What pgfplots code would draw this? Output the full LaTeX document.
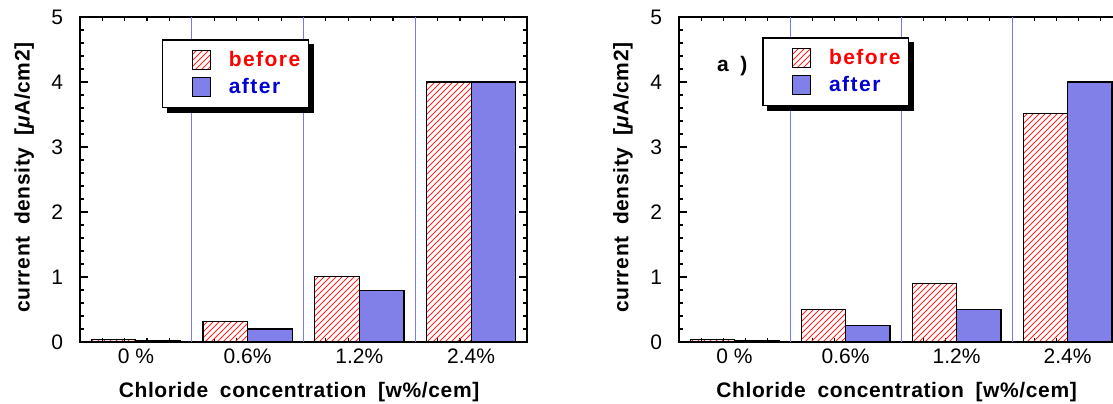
\documentclass[border=0pt]{standalone}
\usepackage{fontspec}
\setmainfont{Liberation Sans}
\newfontfamily\lblfont[LetterSpace=3,WordSpace=1.8]{Liberation Sans}
\newfontfamily\legfont[LetterSpace=7]{Liberation Sans}
\usepackage{pgfplots}
\pgfplotsset{compat=1.18}
\usetikzlibrary{patterns,calc}

\definecolor{afterblue}{RGB}{128,128,232}
\definecolor{txtblue}{RGB}{0,0,210}
\definecolor{sepblue}{RGB}{120,120,255}

\pgfplotsset{
  panel/.style={
    scale only axis, height=162.5pt,
    xmin=-0.5, xmax=3.5, ymin=0, ymax=5,
    xtick={0,1,2,3}, xticklabels={0 \%,0.6\%,1.2\%,2.4\%},
    ytick={0,1,2,3,4,5},
    minor xtick={-0.3,-0.1,0.1,0.3,0.7,0.9,1.1,1.3,1.7,1.9,2.1,2.3,2.7,2.9,3.1,3.3},
    minor y tick num=4,
    tick align=inside, major tick length=4pt, minor tick length=2.2pt,
    xtick pos=both, ytick pos=both,
    xticklabel pos=lower, yticklabel pos=left,
    major x tick style={draw=none},
    extra x ticks={0.5,1.5,2.5}, extra x tick labels={},
    extra x tick style={grid=major, major grid style={sepblue, line width=0.5pt}},
    axis line style={line width=0.8pt},
    tick style={black, line width=0.6pt},
    /pgf/number format/assume math mode=true,
    ticklabel style={font=\fontsize{10.5}{12}\selectfont},
    y tick label style={xshift=-5pt},
    label style={font=\lblfont\bfseries\fontsize{10.5}{12}\selectfont},
    xlabel={Chloride concentration [w\%/cem]},
    ylabel={current density [\textit{μ}A/cm2]},
    xlabel style={at={(axis description cs:0.49,0)}, anchor=center, yshift=-25pt},
    legend cell align=left,
    legend image code/.code={%
      \path (-11.5pt,0pt);
      \draw[##1, line width=0.6pt] (0pt,-4.5pt) rectangle (9pt,5pt);},
    legend style={anchor=north west, draw=black, line width=0.8pt, fill=white,
      inner xsep=3pt, inner ysep=5pt, row sep=3pt,
      nodes={inner xsep=1pt, inner ysep=0.5pt},
      font=\legfont\bfseries\fontsize{10.5}{12}\selectfont,
      /tikz/every odd column/.append style={column sep=8pt}},
  },
  before/.style={ybar, bar width=0.4, bar shift=-0.2, draw=black, line width=0.6pt,
    pattern=north east lines, pattern color=red!85},
  after/.style={ybar, bar width=0.4, bar shift=0.2, draw=black, line width=0.6pt,
    fill=afterblue},
}

\begin{document}
\begin{tikzpicture}
  % left panel
  \begin{axis}[panel, width=223.5pt, at={(40pt,30.5pt)}, anchor=south west,
      ylabel style={at={(axis description cs:-0.125,0.506)}, anchor=center},
      legend style={at={(0.183,0.932)}, name=legL}]
    \addplot[before] coordinates {(0,0.04) (1,0.31) (2,1.01) (3,4.0)};
    \addlegendentry{\textcolor{red}{before}}
    \addplot[after] coordinates {(0,0.02) (1,0.2) (2,0.79) (3,4.0)};
    \addlegendentry{\textcolor{txtblue}{after}}
  \end{axis}

  % right panel (cut off at the right edge)
  \begin{axis}[panel, width=222pt, at={(339.5pt,30.5pt)}, anchor=south west,
      ylabel style={at={(axis description cs:-0.126,0.506)}, anchor=center},
      legend style={at={(0.187,0.938)}, name=legR}]
    \addplot[before] coordinates {(0,0.04) (1,0.5) (2,0.9) (3,3.52)};
    \addlegendentry{\textcolor{red}{before}}
    \addplot[after] coordinates {(0,0.02) (1,0.26) (2,0.5) (3,4.0)};
    \addlegendentry{\textcolor{txtblue}{after}}
    \node[font=\lblfont\bfseries\fontsize{10.5}{12}\selectfont] at (rel axis cs:0.12,0.85) {a )};
  \end{axis}

  % legend shadows
  \foreach \L in {legL,legR} {
    \fill[black] ($(\L.north east)+(0,-2.4pt)$) rectangle ($(\L.south east)+(2.4pt,-2.4pt)$);
    \fill[black] ($(\L.south west)+(2.4pt,0)$) rectangle ($(\L.south east)+(2.4pt,-2.4pt)$);
  }

  \pgfresetboundingbox
  \useasboundingbox (0,0) rectangle (556.5pt,201.5pt);
\end{tikzpicture}
\end{document}
